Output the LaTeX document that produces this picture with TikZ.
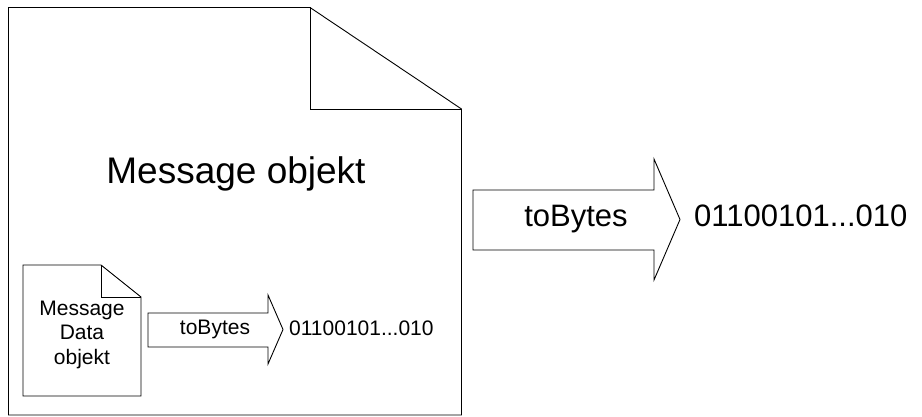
\documentclass[tikz,border=0pt]{standalone}
\usepackage{fontspec}
\setmainfont{Liberation Sans}
\begin{document}
\begin{tikzpicture}[x=1pt,y=-1pt,
  outline/.style={draw=black,line width=0.9pt,line join=miter,fill=white},
  bigtext/.style={font=\fontsize{37}{42}\selectfont,inner sep=0pt,anchor=base},
  midtext/.style={font=\fontsize{31}{36}\selectfont,inner sep=0pt,anchor=base},
  smalltext/.style={font=\fontsize{21}{24.5}\selectfont,inner sep=0pt,align=center,anchor=base}]
\useasboundingbox (0,0) rectangle (922,417);
% outer document with folded corner
\draw[outline] (8.5,7.5) -- (310,7.5) -- (461.5,109) -- (461.5,415) -- (8.5,415) -- cycle;
\draw[outline,fill=none] (310,7.5) -- (310,109) -- (461.5,109);
\node[bigtext] (msg) at (236,184) {Message objekt};
% inner document with folded corner; the base anchor sits on the last line
\draw[outline] (23,265) -- (101,265) -- (141,297) -- (141,396) -- (23,396) -- cycle;
\draw[outline,fill=none] (101,265) -- (101,297) -- (141,297);
\node[smalltext] (data) at (82,364) {Message\\Data\\objekt};
% small conversion arrow
\draw[outline] (148,313) -- (268,313) -- (268,295) -- (283,329.5) -- (268,364) -- (268,347) -- (148,347) -- cycle;
\node[smalltext] (tb1) at (215,334) {toBytes};
\node[smalltext,anchor=base west] (bits1) at (289,335) {01100101...010};
% large conversion arrow
\draw[outline] (473,190) -- (654,190) -- (654,159) -- (680,219.5) -- (654,280) -- (654,250) -- (473,250) -- cycle;
\node[midtext] (tb2) at (576,227) {toBytes};
\node[midtext,anchor=base west] (bits2) at (694,227) {01100101...010};
\end{tikzpicture}
\end{document}
